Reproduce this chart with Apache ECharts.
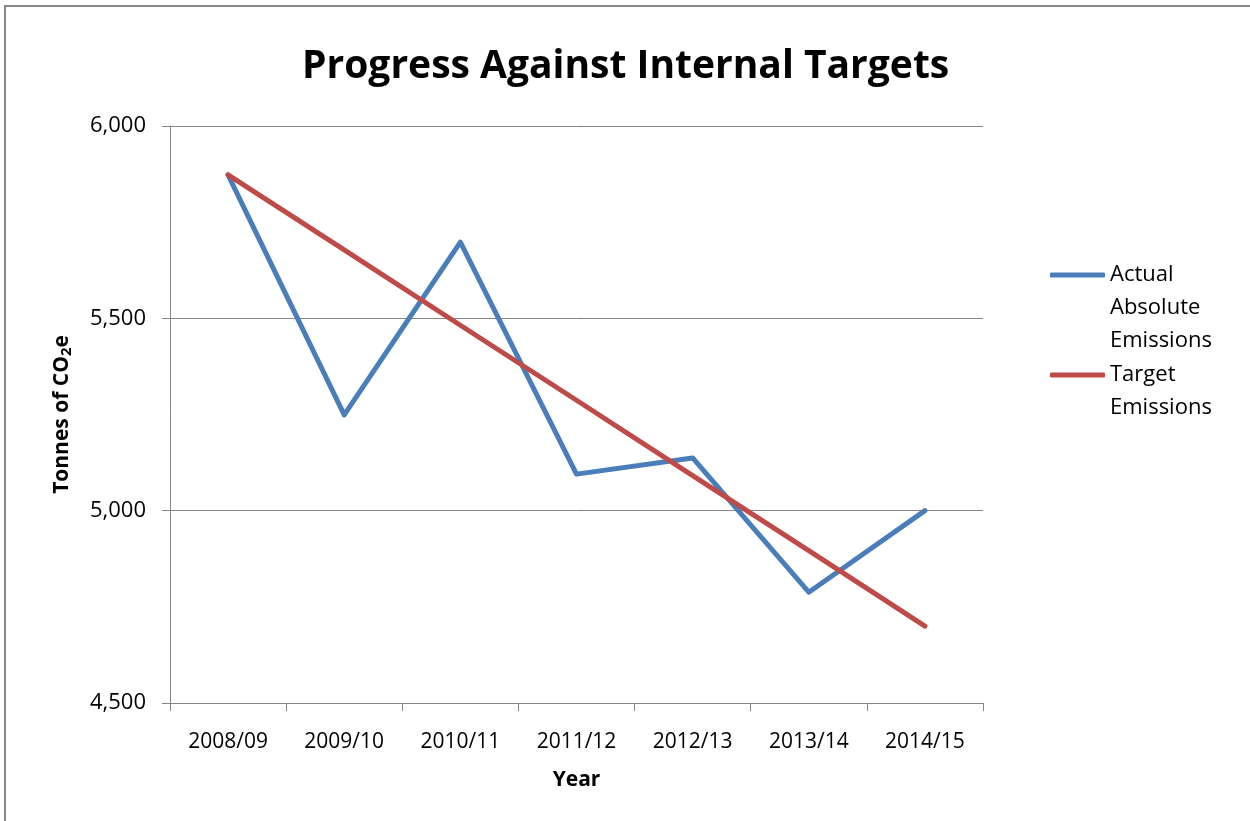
<!DOCTYPE html>
<html>
<head>
<meta charset="utf-8">
<title>Progress Against Internal Targets</title>
<script src="https://cdn.jsdelivr.net/npm/echarts@6/dist/echarts.min.js"></script>
<style>
  html, body { margin: 0; padding: 0; background: #fff; }
  #chart { width: 1250px; height: 821px; }
</style>
</head>
<body>
<div id="chart"></div>
<script>
// data
var years = ['2008/09', '2009/10', '2010/11', '2011/12', '2012/13', '2013/14', '2014/15']
var actualEmissions = [5873, 5249, 5698, 5095, 5137, 4788, 5000]
var targetEmissions = [5873, 5678, 5482, 5287, 5091, 4896, 4700]
var seriesNames = ['Actual\nAbsolute\nEmissions', 'Target\nEmissions']

var font = '"Open Sans", "Noto Sans", sans-serif'
var grey = '#868686'
var lh = 33

// legend text is centred on the icon, so pad with empty lines on top
// to get the icon level with the first line (like excel does it)
function legendText(name) {
  var n = name.split('\n').length
  return new Array(n).join('\n') + name
}

function makeLegend(name, top) {
  return {
    data: [name],
    orient: 'vertical',
    left: 1050,
    top: top,
    padding: 0,
    itemWidth: 55,
    itemHeight: 5,
    icon: 'roundRect',
    formatter: legendText,
    textStyle: { fontFamily: font, fontSize: 22, color: '#000', lineHeight: lh }
  }
}

var chart = echarts.init(document.getElementById('chart'))

chart.setOption({
  backgroundColor: '#fff',
  animation: false,
  title: {
    text: 'Progress Against Internal Targets',
    left: 297,
    top: 42,
    textStyle: { fontFamily: font, fontWeight: 'bold', fontSize: 39, color: '#000' }
  },
  grid: { left: 170, right: 267, top: 126, bottom: 118 },
  legend: [
    makeLegend(seriesNames[0], 275 - 2.5 * lh),
    makeLegend(seriesNames[1], 375 - 1.5 * lh)
  ],
  xAxis: {
    type: 'category',
    data: years,
    boundaryGap: true,
    name: 'Year',
    nameLocation: 'middle',
    nameGap: 67,
    nameTextStyle: { fontFamily: font, fontWeight: 'bold', fontSize: 21, color: '#000' },
    axisLine: { lineStyle: { color: grey, width: 1 } },
    axisTick: { show: true, alignWithLabel: false, length: 8, lineStyle: { color: grey } },
    axisLabel: { margin: 29, fontFamily: font, fontSize: 21, color: '#000', interval: 0 },
    splitLine: { show: false }
  },
  yAxis: {
    type: 'value',
    min: 4500,
    max: 6000,
    interval: 500,
    name: 'Tonnes of CO{sub|2}e',
    nameLocation: 'middle',
    nameGap: 96,
    nameRotate: 90,
    nameTextStyle: {
      fontFamily: font, fontWeight: 'bold', fontSize: 21, color: '#000',
      rich: {
        sub: { fontFamily: font, fontWeight: 'bold', fontSize: 15, color: '#000', verticalAlign: 'bottom', padding: [8, 0, 0, 0] }
      }
    },
    axisLine: { show: true, lineStyle: { color: grey, width: 1 } },
    axisTick: { show: true, length: 8, lineStyle: { color: grey } },
    axisLabel: {
      margin: 24, fontFamily: font, fontSize: 22, color: '#000',
      formatter: function (v) { return v.toLocaleString('en-US') }
    },
    splitLine: { show: true, lineStyle: { color: grey, width: 1 } }
  },
  series: [{
    name: seriesNames[0],
    type: 'line',
    data: actualEmissions,
    symbol: 'none',
    color: '#4A7EBB',
    lineStyle: { width: 5, color: '#4A7EBB', cap: 'round', join: 'round' }
  }, {
    name: seriesNames[1],
    type: 'line',
    data: targetEmissions,
    symbol: 'none',
    color: '#BE4B48',
    lineStyle: { width: 5, color: '#BE4B48', cap: 'round', join: 'round' }
  }],
  graphic: [{
    type: 'rect',
    silent: true,
    shape: { x: 5, y: 6, width: 1300, height: 900 },
    style: { fill: 'none', stroke: grey, lineWidth: 2 }
  }]
})
</script>
</body>
</html>
